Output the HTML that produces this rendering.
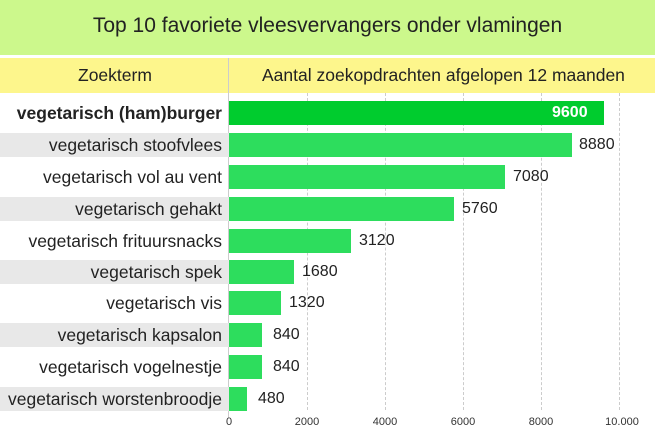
<!DOCTYPE html>
<html><head><meta charset="utf-8"><style>
body{margin:0;width:655px;height:437px;background:#fff;font-family:"Liberation Sans",sans-serif;position:relative;overflow:hidden}
.t{position:absolute;left:0;top:0;width:655px;height:55px;background:#ccf88c;font-size:21px;color:#222;text-align:center;line-height:52px}
.h{position:absolute;left:0;top:58px;width:655px;height:35px;background:#fdf68c;font-size:17.5px;color:#222;line-height:35px}
.abs{position:absolute}
.lab{position:absolute;left:0;width:222px;text-align:right;font-size:17.5px;color:#222;height:24px;line-height:24px;padding-right:7px;white-space:nowrap}
.g{background:#e8e8e8}
.bar{position:absolute;left:229px;height:24px;background:#2ddd5d}
.v{position:absolute;font-size:16px;color:#222;line-height:24px}
.grid{position:absolute;top:93px;height:317px;border-left:1px dashed #ccc}
.tick{position:absolute;top:416px;font-size:11px;color:#333;transform:translateX(-50%)}
</style></head><body>
<div class="t">Top 10 favoriete vleesvervangers onder vlamingen</div>
<div class="h"><span class="abs" style="left:78px">Zoekterm</span><span class="abs" style="left:262px">Aantal zoekopdrachten afgelopen 12 maanden</span></div>
<div class="abs" style="left:228px;top:58px;width:1px;height:360px;background:#ccc"></div>
<div class="grid" style="left:307px"></div><div class="grid" style="left:385px"></div><div class="grid" style="left:463px"></div><div class="grid" style="left:541px"></div><div class="grid" style="left:619px"></div>
<div class="lab" style="top:101px;font-weight:bold">vegetarisch (ham)burger</div>
<div class="lab g" style="top:133px">vegetarisch stoofvlees</div>
<div class="lab" style="top:165px">vegetarisch vol au vent</div>
<div class="lab g" style="top:197px">vegetarisch gehakt</div>
<div class="lab" style="top:229px">vegetarisch frituursnacks</div>
<div class="lab g" style="top:260px">vegetarisch spek</div>
<div class="lab" style="top:291px">vegetarisch vis</div>
<div class="lab g" style="top:323px">vegetarisch kapsalon</div>
<div class="lab" style="top:355px">vegetarisch vogelnestje</div>
<div class="lab g" style="top:387px">vegetarisch worstenbroodje</div>
<div class="bar" style="top:101px;width:375px;background:#00cc2e"></div><div class="v" style="top:101px;left:552px;color:#fff;font-weight:bold">9600</div>
<div class="bar" style="top:133px;width:343px"></div><div class="v" style="top:133px;left:579px">8880</div>
<div class="bar" style="top:165px;width:276px"></div><div class="v" style="top:165px;left:513px">7080</div>
<div class="bar" style="top:197px;width:225px"></div><div class="v" style="top:197px;left:462px">5760</div>
<div class="bar" style="top:229px;width:122px"></div><div class="v" style="top:229px;left:359px">3120</div>
<div class="bar" style="top:260px;width:65px"></div><div class="v" style="top:260px;left:302px">1680</div>
<div class="bar" style="top:291px;width:52px"></div><div class="v" style="top:291px;left:289px">1320</div>
<div class="bar" style="top:323px;width:33px"></div><div class="v" style="top:323px;left:273px">840</div>
<div class="bar" style="top:355px;width:33px"></div><div class="v" style="top:355px;left:273px">840</div>
<div class="bar" style="top:387px;width:18px"></div><div class="v" style="top:387px;left:258px">480</div>
<div class="tick" style="left:229px">0</div><div class="tick" style="left:307px">2000</div><div class="tick" style="left:385px">4000</div><div class="tick" style="left:463px">6000</div><div class="tick" style="left:541px">8000</div><div class="tick" style="left:622px">10.000</div>
</body></html>
